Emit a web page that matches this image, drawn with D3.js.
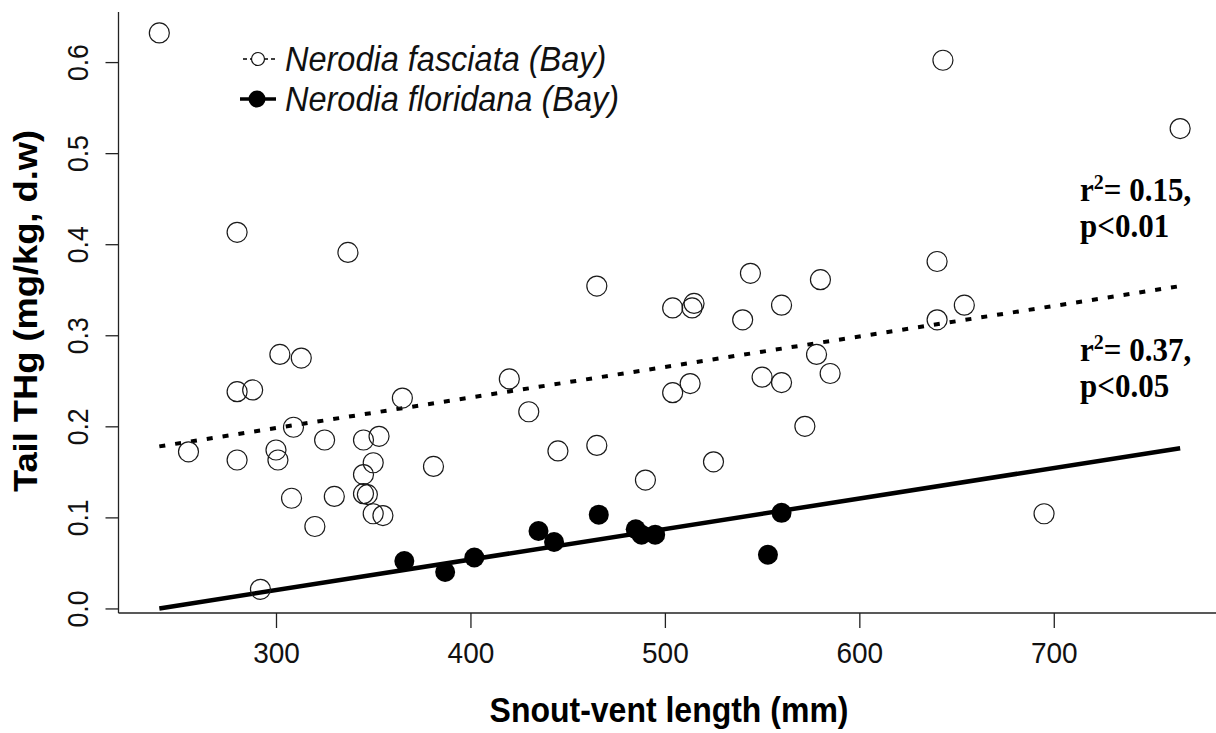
<!DOCTYPE html>
<html>
<head>
<meta charset="utf-8">
<script src="https://cdn.jsdelivr.net/npm/d3@7"></script>
<style>
  body { margin: 0; background: #fff; }
  svg { display: block; }
  .tick text { font-family: "Liberation Sans", Arial, sans-serif; fill: #111; }
  .tick line, .axis-line { stroke: #222; stroke-width: 1.3; }
</style>
</head>
<body>
<div id="wrapper"></div>
<script>
// Nerodia fasciata (Bay) - open circles
const fasciataSvl = [240, 255, 280, 280, 288, 280, 292, 300, 301, 302, 313, 309, 308, 320, 325, 330, 337, 345, 345, 345, 347, 350, 350, 353, 355, 365, 381, 420, 430, 445, 465, 465, 490, 504, 504, 513, 514, 515, 525, 540, 544, 550, 560, 560, 572, 578, 580, 585, 640, 640, 643, 654, 695, 765];
const fasciataHg = [0.632, 0.172, 0.413, 0.238, 0.240, 0.163, 0.021, 0.174, 0.163, 0.279, 0.275, 0.199, 0.121, 0.090, 0.185, 0.123, 0.391, 0.185, 0.147, 0.126, 0.125, 0.160, 0.104, 0.189, 0.102, 0.231, 0.156, 0.252, 0.216, 0.173, 0.354, 0.179, 0.141, 0.330, 0.237, 0.247, 0.330, 0.335, 0.161, 0.317, 0.368, 0.254, 0.333, 0.248, 0.200, 0.279, 0.361, 0.258, 0.381, 0.317, 0.602, 0.333, 0.104, 0.527];

// Nerodia floridana (Bay) - filled circles
const floridanaSvl = [366, 387, 402, 435, 443, 466, 485, 488, 495, 553, 560];
const floridanaHg = [0.052, 0.040, 0.056, 0.085, 0.073, 0.103, 0.087, 0.081, 0.081, 0.059, 0.105];

// fitted regression lines (ends)
const fitSvl = [240, 765];
const fitFasciata = [0.178, 0.354];
const fitFloridana = [0.0, 0.176];

const xTicks = [300, 400, 500, 600, 700];
const yTicks = [0, 0.1, 0.2, 0.3, 0.4, 0.5, 0.6];

const legendLabels = ['Nerodia fasciata (Bay)', 'Nerodia floridana (Bay)'];
const statLabels = [['0.15,', 'p<0.01'], ['0.37,', 'p<0.05']];

function drawChart() {
  const fasciata = fasciataSvl.map((d, i) => ({ x: d, y: fasciataHg[i] }));
  const floridana = floridanaSvl.map((d, i) => ({ x: d, y: floridanaHg[i] }));

  // the original picture is a little stretched vertically
  const stretch = 1.07;

  let dimensions = {
    width: 1216,
    height: 733,
    left: 118.5,
    right: 1221,
    top: 12,
    bottom: 613,
  }

  const wrapper = d3.select('#wrapper')
    .append('svg')
    .attr('width', dimensions.width)
    .attr('height', dimensions.height)

  // scales (R style 4% padding around data)
  const xScale = d3.scaleLinear()
    .domain([219, 786])
    .range([dimensions.left, dimensions.right])

  const yScale = d3.scaleLinear()
    .domain([-0.005, 0.655])
    .range([dimensions.bottom, dimensions.top])

  // axes
  const xAxisGenerator = d3.axisBottom(xScale)
    .tickValues(xTicks)
    .tickSize(15)
    .tickFormat(d3.format('d'));
  const xAxis = wrapper.append('g')
    .attr('transform', `translate(0,${dimensions.bottom})`)
    .call(xAxisGenerator);
  xAxis.select('.domain').remove();
  xAxis.selectAll('.tick text')
    .style('font-size', '28px')
    .attr('y', 0)
    .attr('dy', 0)
    .attr('transform', `translate(0,50) scale(1,${stretch})`);

  const yAxisGenerator = d3.axisLeft(yScale)
    .tickValues(yTicks)
    .tickSize(13)
    .tickFormat(d3.format('.1f'));
  const yAxis = wrapper.append('g')
    .attr('transform', `translate(${dimensions.left},0)`)
    .call(yAxisGenerator);
  yAxis.select('.domain').remove();
  yAxis.selectAll('.tick text')
    .style('font-size', '28px')
    .attr('text-anchor', 'middle')
    .attr('x', 0)
    .attr('dy', 0)
    .attr('transform', 'translate(-31,0) rotate(-90) scale(0.95,1.05)');

  // L-shaped box
  wrapper.append('line')
    .attr('class', 'axis-line')
    .attr('x1', dimensions.left).attr('x2', dimensions.left)
    .attr('y1', dimensions.top).attr('y2', dimensions.bottom);
  wrapper.append('line')
    .attr('class', 'axis-line')
    .attr('x1', dimensions.left).attr('x2', dimensions.width)
    .attr('y1', dimensions.bottom).attr('y2', dimensions.bottom);

  // axis titles
  wrapper.append('text')
    .attr('transform', `translate(669,722) scale(1,${stretch})`)
    .attr('text-anchor', 'middle')
    .style('font-family', '"Liberation Sans", Arial, sans-serif')
    .style('font-weight', 'bold')
    .style('font-size', '32px')
    .text('Snout-vent length (mm)');

  wrapper.append('text')
    .attr('transform', 'translate(37,311) rotate(-90) scale(1.1,1)')
    .attr('text-anchor', 'middle')
    .style('font-family', '"Liberation Sans", Arial, sans-serif')
    .style('font-weight', 'bold')
    .style('font-size', '33px')
    .text('Tail THg (mg/kg, d.w)');

  // regression lines
  const lineGen = d3.line()
    .x(d => xScale(d[0]))
    .y(d => yScale(d[1]));

  wrapper.append('path')
    .attr('d', lineGen(fitSvl.map((d, i) => [d, fitFasciata[i]])))
    .attr('fill', 'none')
    .attr('stroke', '#000')
    .attr('stroke-width', 4)
    .attr('stroke-dasharray', '6 10');

  wrapper.append('path')
    .attr('d', lineGen(fitSvl.map((d, i) => [d, fitFloridana[i]])))
    .attr('fill', 'none')
    .attr('stroke', '#000')
    .attr('stroke-width', 4.5);

  // points
  wrapper.append('g')
    .selectAll('circle')
    .data(fasciata)
    .enter()
    .append('circle')
    .attr('cx', d => xScale(d.x))
    .attr('cy', d => yScale(d.y))
    .attr('r', 10)
    .attr('fill', 'none')
    .attr('stroke', '#1a1a1a')
    .attr('stroke-width', 1.2);

  wrapper.append('g')
    .selectAll('circle')
    .data(floridana)
    .enter()
    .append('circle')
    .attr('cx', d => xScale(d.x))
    .attr('cy', d => yScale(d.y))
    .attr('r', 10)
    .attr('fill', '#000');

  // legend
  const legendRowY = [59, 99];
  const legend = wrapper.append('g');
  legend.append('line')
    .attr('x1', 243).attr('x2', 276).attr('y1', legendRowY[0]).attr('y2', legendRowY[0])
    .attr('stroke', '#000').attr('stroke-width', 1.5)
    .attr('stroke-dasharray', '4 3');
  legend.append('circle')
    .attr('cx', 258).attr('cy', legendRowY[0]).attr('r', 6.5)
    .attr('fill', '#fff').attr('stroke', '#111').attr('stroke-width', 1.2);
  legend.append('line')
    .attr('x1', 240).attr('x2', 276).attr('y1', legendRowY[1]).attr('y2', legendRowY[1])
    .attr('stroke', '#000').attr('stroke-width', 3.5);
  legend.append('circle')
    .attr('cx', 257).attr('cy', legendRowY[1]).attr('r', 8.5)
    .attr('fill', '#000');
  legend.selectAll('.legend-text')
    .data(legendLabels)
    .enter()
    .append('text')
    .attr('class', 'legend-text')
    .attr('transform', (d, i) => `translate(285,${legendRowY[i] + 12}) scale(1,${stretch})`)
    .style('font-family', '"Liberation Sans", Arial, sans-serif')
    .style('font-style', 'italic')
    .style('font-size', '32.5px')
    .style('fill', '#111')
    .text(d => d);

  // r2 / p annotations
  const stats = wrapper.append('g')
    .style('font-family', '"Liberation Serif", "Times New Roman", serif')
    .style('font-weight', 'bold')
    .style('font-size', '31px');
  statLabels.forEach((s, i) => {
    const y0 = 201 + i * 160;
    const t = stats.append('text')
      .attr('transform', `translate(1080,${y0}) scale(1,${stretch})`);
    t.append('tspan').text('r');
    t.append('tspan').attr('dy', -11).style('font-size', '20px').text('2');
    t.append('tspan').attr('dy', 11).text('= ' + s[0]);
    stats.append('text')
      .attr('transform', `translate(1080,${y0 + 36}) scale(1,${stretch})`)
      .text(s[1]);
  });
}

drawChart();
</script>
</body>
</html>
